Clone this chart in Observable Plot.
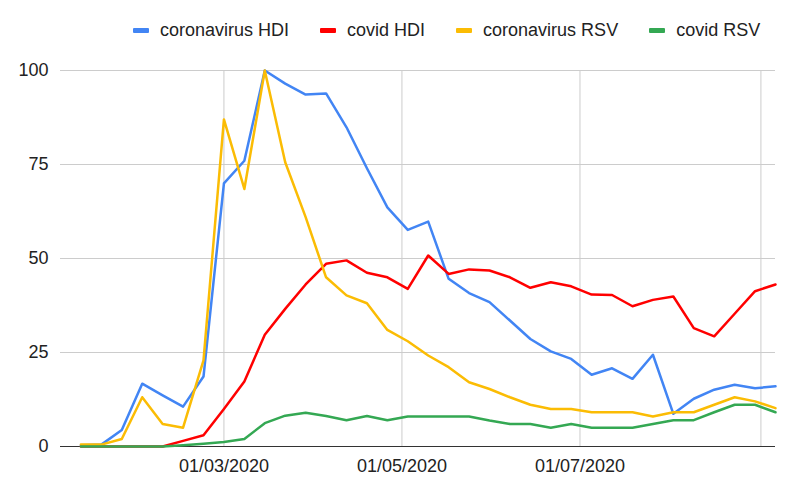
<!DOCTYPE html>
<html><head><meta charset="utf-8">
<script src="https://cdn.jsdelivr.net/npm/d3@7"></script>
<script src="https://cdn.jsdelivr.net/npm/@observablehq/plot@0.6"></script>
<style>
body{margin:0;background:#fff;font-family:"Liberation Sans",Arial,sans-serif;}
#legend{height:60px;display:flex;align-items:center;padding-left:133px;gap:31px;font-size:18px;color:#222;}
.item{display:flex;align-items:center;}
.sw{width:16px;height:5px;margin-right:11px;border-radius:1px;}
</style></head><body>
<div id="legend"></div><div id="chart"></div>
<script>
const dates = ["2020-01-12","2020-01-19","2020-01-26","2020-02-02","2020-02-09","2020-02-16","2020-02-23",
"2020-03-01","2020-03-08","2020-03-15","2020-03-22","2020-03-29","2020-04-05","2020-04-12","2020-04-19","2020-04-26",
"2020-05-03","2020-05-10","2020-05-17","2020-05-24","2020-05-31","2020-06-07","2020-06-14","2020-06-21","2020-06-28",
"2020-07-05","2020-07-12","2020-07-19","2020-07-26","2020-08-02","2020-08-09","2020-08-16","2020-08-23","2020-08-30","2020-09-06"];
const coronavirusHDI = [0.3,0.5,4.4,16.7,13.6,10.6,18.6,70,76,100,96.5,93.6,93.9,84.9,74,63.6,57.6,59.8,44.6,40.8,38.4,33.5,28.6,25.3,23.3,19.1,20.8,18.0,24.4,8.7,12.7,15.1,16.4,15.5,16.0];
const covidHDI = [0,0,0,0,0,1.5,3,10,17.3,29.7,36.6,43.1,48.6,49.5,46.2,45,41.9,50.8,45.9,47.1,46.8,45,42.2,43.7,42.6,40.4,40.3,37.3,39,39.9,31.5,29.3,35.3,41.3,43.1];
const coronavirusRSV = [0.5,0.5,2,13.1,6,5,22.9,87,68.5,100,75.6,61,45,40.2,38.1,31,28,24.2,21.1,17.1,15.3,13.1,11.1,10,10,9.1,9.1,9.1,8,9.1,9.1,11.1,13.1,12,10.2];
const covidRSV = [0,0,0,0,0,0.3,0.7,1.2,2,6.2,8.2,9,8.1,7,8.1,7,8,8,8,8,6.9,6,6,5,6,5,5,5,6,7,7,9.1,11.1,11.1,9.1];
const seriesNames = ["coronavirus HDI","covid HDI","coronavirus RSV","covid RSV"];
const seriesColors = ["#4285f4","#ff0000","#fbbc04","#34a853"];
const yTicks = [0,25,50,75,100];
const xDomain = ["2020-01-05","2020-09-06"];
const xGrid = ["2020-03-01","2020-05-01","2020-07-01","2020-09-01"];
const xLabels = ["2020-03-01","2020-05-01","2020-07-01"];

const allSeries = [coronavirusHDI, covidHDI, coronavirusRSV, covidRSV];
const dateObjs = dates.map(d => new Date(d));

const legend = document.getElementById("legend");
seriesNames.forEach((n,i) => {
  const it = document.createElement("div"); it.className = "item";
  const sw = document.createElement("div"); sw.className = "sw"; sw.style.background = seriesColors[i];
  const tx = document.createElement("span"); tx.textContent = n;
  it.appendChild(sw); it.appendChild(tx); legend.appendChild(it);
});

const chart = Plot.plot({
  width: 800, height: 435,
  marginTop: 10, marginBottom: 49, marginLeft: 60, marginRight: 25,
  style: {fontFamily: '"Liberation Sans", Arial, sans-serif', fontSize: "18px", color: "#222", background: "white", overflow: "visible"},
  x: {type: "utc", domain: xDomain.map(d => new Date(d))},
  y: {domain: [0, 100]},
  marks: [
    Plot.gridY(yTicks.slice(1), {stroke: "#cccccc", strokeOpacity: 1}),
    Plot.gridX(xGrid.map(d => new Date(d)), {stroke: "#cccccc", strokeOpacity: 1}),
    Plot.ruleY([0], {stroke: "#333"}),
    Plot.axisY(yTicks, {tickSize: 0, tickPadding: 12, label: null, fontSize: 18}),
    Plot.axisX(xLabels.map(d => new Date(d)), {tickSize: 0, tickPadding: 13, label: null, fontSize: 18, tickFormat: d3.utcFormat("%d/%m/%Y")}),
    ...allSeries.map((s, k) => Plot.line(s, {x: (d, i) => dateObjs[i], y: d => d, stroke: seriesColors[k], strokeWidth: 2.5, strokeLinejoin: "round"}))
  ]
});
document.getElementById("chart").appendChild(chart);
</script></body></html>
